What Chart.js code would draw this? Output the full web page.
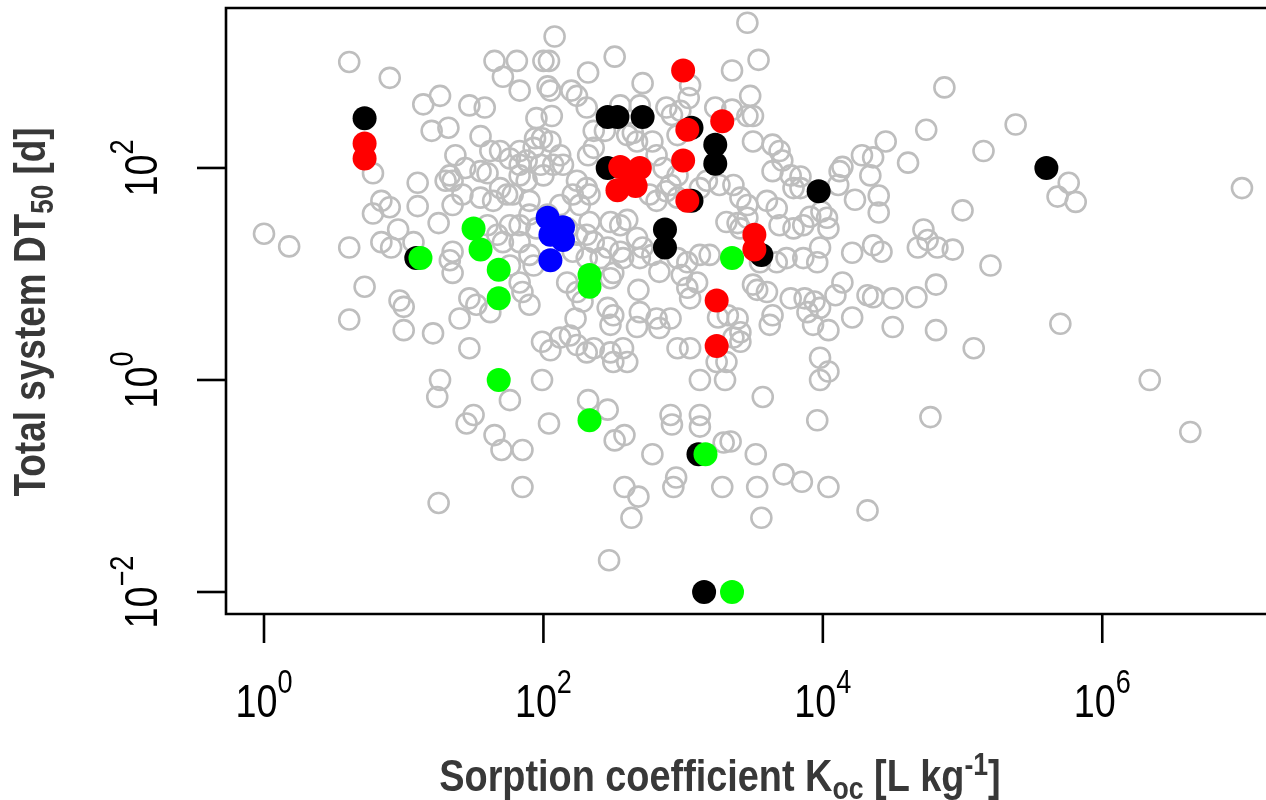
<!DOCTYPE html>
<html>
<head>
<meta charset="utf-8">
<script src="https://cdn.jsdelivr.net/npm/chart.js@4/dist/chart.umd.min.js"></script>
<style>
  html, body { margin: 0; padding: 0; background: #fff; overflow: hidden; }
  #wrap { width: 1266px; height: 800px; }
</style>
</head>
<body>
<div id="wrap"><canvas id="myChart" width="1266" height="800"></canvas></div>
<script>
// values are log10(Koc) and log10(DT50)

// grey open circles: all substances
const grayLogKoc = [
  0.61,0.90,1.14,0.78,0.78,0.84,0.90,1.10,
  2.08,1.65,1.81,2.00,2.04,1.71,1.83,2.32,2.05,2.03,2.20,2.24,2.31,1.26,1.47,1.58,1.95,2.06,1.20,1.32,1.55,1.37,
  2.36,1.94,1.99,2.05,1.83,1.62,1.69,1.55,1.60,1.33,1.30,1.35,1.44,1.76,1.83,1.88,1.93,2.12,2.14,2.07,1.98,2.00,
  1.83,1.88,1.69,1.74,1.78,1.42,1.35,1.55,1.64,2.24,2.31,2.33,2.21,2.26,1.90,2.12,2.32,2.36,
  3.46,2.51,3.54,3.35,2.71,3.05,3.04,3.48,2.55,2.69,2.88,2.92,2.98,3.23,3.35,3.46,3.50,2.60,2.64,2.78,2.96,3.50,
  3.64,3.69,3.71,3.64,3.77,3.79,2.88,2.96,3.12,3.36,3.41,3.46,2.76,2.81,3.60,3.67,2.44,2.67,2.81,2.86,2.96,2.91,
  3.17,3.26,
  4.87,4.74,5.38,5.15,4.61,4.45,4.28,4.36,4.14,4.12,4.34,4.11,4.23,4.40,4.40,5.00,3.84,3.84,3.99,5.76,5.68,5.81,7.00,
  0.00,0.18,0.61,0.72,0.61,0.97,1.00,1.00,0.84,0.91,0.96,1.07,
  1.25,1.35,1.33,1.35,1.60,1.67,1.71,1.76,1.83,1.90,1.93,1.76,1.83,1.85,1.90,1.47,1.52,1.40,1.62,1.21,1.47,1.99,
  2.05,2.12,2.19,2.24,2.31,2.36,2.23,2.17,2.24,2.28,2.21,2.31,2.31,2.33,1.26,1.24,1.76,1.99,2.32,1.50,2.03,1.90,
  1.83,1.95,2.17,2.24,2.36,2.41,
  2.48,2.55,2.60,2.67,2.71,2.46,2.55,2.57,2.69,2.78,2.83,2.48,2.50,2.96,3.03,2.99,3.12,3.19,3.10,3.03,3.05,2.68,
  2.46,2.48,2.50,2.69,2.67,2.81,2.83,2.91,3.25,3.32,3.39,3.41,3.36,3.41,3.50,3.53,3.60,3.64,3.62,3.55,3.67,3.74,
  3.79,3.69,3.77,2.96,3.05,3.31,3.39,3.46,3.41,2.48,2.50,2.60,2.57,3.24,3.31,3.12,3.30,3.57,2.46,2.91,3.12,
  3.91,4.03,4.04,3.86,3.98,3.96,3.86,4.21,4.36,4.42,4.72,4.75,4.68,4.82,4.93,5.20,4.14,4.09,4.32,4.36,4.50,4.67,
  4.81,3.94,3.98,3.87,3.89,4.21,3.93,4.04,4.50,4.81,5.08,5.70,3.98,4.04,3.98,6.34,3.96,4.77,
  1.45,2.04,1.65,1.70,1.85,1.85,1.25,
  2.92,3.12,6.63,2.51,2.58,2.78,3.29,3.34,3.52,2.58,2.68,2.63,2.95,2.93,3.28,3.53,3.72,3.85,4.04,4.32,3.56,2.47,
  1.10
];
const grayLogDT50 = [
  3.00,2.85,2.60,1.95,1.57,1.69,1.63,1.64,
  3.24,3.01,3.01,3.01,3.01,2.86,2.73,2.90,2.73,2.77,2.73,2.68,2.57,2.68,2.59,2.57,2.47,2.49,2.35,2.38,2.30,2.12,
  2.35,2.28,2.28,2.25,2.16,2.16,2.16,1.97,1.95,1.93,1.88,1.88,2.00,2.09,2.03,2.07,2.19,2.12,2.03,2.03,2.03,1.93,
  1.93,1.88,1.81,1.75,1.75,1.75,1.65,1.72,1.69,1.88,1.81,1.75,1.75,1.65,1.69,1.65,2.12,2.19,
  3.37,3.05,3.02,2.92,2.80,2.78,2.66,2.68,2.59,2.59,2.57,2.50,2.54,2.57,2.55,2.49,2.49,2.31,2.33,2.25,2.31,2.25,
  2.22,2.16,2.07,1.97,1.93,1.81,1.78,1.72,1.81,1.84,1.72,1.65,1.75,1.69,1.69,1.62,2.35,2.25,2.12,2.00,1.93,1.84,
  1.88,1.84,
  2.76,2.36,2.41,2.16,2.05,2.25,2.12,2.10,2.01,1.97,1.93,1.84,1.70,1.74,1.58,1.60,1.92,1.81,1.59,1.86,1.73,1.68,1.81,
  1.38,1.26,1.25,0.88,0.57,0.75,0.69,0.47,1.30,1.25,1.42,1.30,
  1.48,1.21,1.13,1.01,1.46,1.37,1.30,1.46,1.30,1.18,1.08,1.08,0.92,0.83,0.71,0.77,0.71,0.58,0.64,0.44,0.30,0.36,
  0.28,0.40,0.42,0.33,0.26,0.30,0.58,0.92,0.83,0.74,1.21,1.15,1.37,1.49,0.00,-0.16,-0.19,0.00,-0.19,-0.33,1.56,1.56,
  1.46,1.43,1.43,1.37,1.30,1.15,
  1.49,1.46,1.51,1.34,1.25,1.25,1.21,1.15,1.15,1.18,1.02,0.96,1.01,1.15,1.11,0.99,1.18,1.18,0.92,0.87,0.77,0.85,
  0.68,0.52,0.61,0.64,0.50,0.58,0.49,0.58,0.59,0.61,0.58,0.45,0.40,0.36,0.90,0.85,0.83,0.61,0.52,1.11,1.11,1.15,
  1.43,1.46,0.77,0.30,0.30,1.49,1.48,1.53,1.43,0.26,0.17,0.17,0.30,0.17,0.17,0.00,0.00,-0.16,-0.28,-0.33,-0.33,
  1.54,1.53,1.43,1.46,1.25,1.11,1.15,1.20,1.27,1.21,1.42,1.32,1.25,1.25,1.23,1.08,0.92,0.80,0.80,0.78,0.77,0.78,
  0.90,0.74,0.68,0.77,0.64,0.59,0.52,0.47,0.50,0.47,0.30,0.53,0.21,0.08,0.00,0.00,-0.38,-0.35,
  -0.41,-0.41,-0.52,-0.66,-0.66,-1.01,-1.16,
  -0.42,-0.44,-0.49,-0.57,-0.52,-0.70,-0.59,-0.58,-0.70,-1.01,-1.10,-1.30,-0.92,-1.01,-1.01,-1.01,-0.89,-0.96,
  -1.01,-1.23,-1.30,-1.70,
  1.86
];

// highlighted groups (filled)
const blackLogKoc  = [0.72, 2.46, 2.53, 2.71, 3.06, 3.23, 3.23, 2.46, 3.06, 3.97, 5.60, 2.87, 2.87, 3.56, 1.09, 3.11, 3.15];
const blackLogDT50 = [2.47, 2.48, 2.48, 2.48, 2.38, 2.22, 2.04, 2.00, 1.69, 1.78, 2.00, 1.42, 1.25, 1.18, 1.15, -0.70, -2.00];

const redLogKoc  = [0.72, 0.72, 3.00, 3.03, 3.28, 3.00, 2.55, 2.69, 2.62, 2.53, 2.66, 3.03, 3.51, 3.51, 3.24, 3.24];
const redLogDT50 = [2.23, 2.09, 2.92, 2.36, 2.44, 2.07, 2.01, 2.00, 1.87, 1.79, 1.83, 1.69, 1.37, 1.23, 0.75, 0.32];

const greenLogKoc  = [1.50, 1.55, 1.68, 1.68, 1.68, 1.12, 2.33, 2.33, 2.33, 3.35, 3.16, 3.35];
const greenLogDT50 = [1.43, 1.23, 1.04, 0.77, 0.00, 1.15, 0.99, 0.88, -0.38, 1.15, -0.70, -2.00];

const blueLogKoc  = [2.03, 2.14, 2.05, 2.14, 2.05];
const blueLogDT50 = [1.53, 1.44, 1.37, 1.32, 1.13];

// axis ticks (exponents of 10)
const xTickExp = [0, 2, 4, 6];
const yTickExp = [-2, 0, 2];

const FONT = '"Liberation Sans", Arial, sans-serif';

function pts(xs, ys) {
    return xs.map((v, i) => ({ x: v, y: ys[i] }));
}

// draw a run of text pieces centred on (0,0) baseline, squeezed horizontally by sx
function drawRich(ctx, parts, color, sx) {
    ctx.save();
    ctx.scale(sx, 1);
    ctx.fillStyle = color;
    ctx.textBaseline = 'alphabetic';
    ctx.textAlign = 'left';
    let total = 0;
    parts.forEach(p => {
        ctx.font = p.font;
        p.w = ctx.measureText(p.t).width;
        total += p.w;
    });
    let cx = -total / 2;
    parts.forEach(p => {
        ctx.font = p.font;
        ctx.fillText(p.t, cx, p.dy || 0);
        cx += p.w;
    });
    ctx.restore();
}

function powParts(e) {
    const s = e < 0 ? '\u2212' + Math.abs(e) : String(e);
    return [
        { t: '10', font: '46px ' + FONT },
        { t: s, font: '33px ' + FONT, dy: -24 }
    ];
}

const axisDecor = {
    id: 'axisDecor',
    afterDraw(chart) {
        const { ctx, chartArea: a, scales } = chart;
        const xs = scales.x, ys = scales.y;
        ctx.save();
        ctx.strokeStyle = '#000';
        ctx.lineWidth = 2.6;
        ctx.lineCap = 'butt';

        // box (right side lies beyond the picture)
        ctx.beginPath();
        ctx.moveTo(a.right + 20, a.top);
        ctx.lineTo(a.left, a.top);
        ctx.lineTo(a.left, a.bottom);
        ctx.lineTo(a.right + 20, a.bottom);
        ctx.stroke();

        // x ticks + labels
        xTickExp.forEach(e => {
            const px = xs.getPixelForValue(e);
            ctx.beginPath();
            ctx.moveTo(px, a.bottom);
            ctx.lineTo(px, a.bottom + 29);
            ctx.stroke();
            ctx.save();
            ctx.translate(px, 717);
            drawRich(ctx, powParts(e), '#000', 0.82);
            ctx.restore();
        });

        // y ticks + labels (rotated)
        yTickExp.forEach(e => {
            const py = ys.getPixelForValue(e);
            ctx.beginPath();
            ctx.moveTo(a.left - 29, py);
            ctx.lineTo(a.left, py);
            ctx.stroke();
            ctx.save();
            ctx.translate(157, py);
            ctx.rotate(-Math.PI / 2);
            drawRich(ctx, powParts(e), '#000', 0.82);
            ctx.restore();
        });

        // axis titles
        const big = 'bold 44px ' + FONT;
        const small = 'bold 31px ' + FONT;
        ctx.save();
        ctx.translate(720, 791);
        drawRich(ctx, [
            { t: 'Sorption coefficient K', font: big },
            { t: 'oc', font: small, dy: 8 },
            { t: ' [L kg', font: big },
            { t: '-1', font: small, dy: -16 },
            { t: ']', font: big }
        ], '#383838', 0.86);
        ctx.restore();

        ctx.save();
        ctx.translate(45, 312);
        ctx.rotate(-Math.PI / 2);
        drawRich(ctx, [
            { t: 'Total system DT', font: big },
            { t: '50', font: small, dy: 8 },
            { t: ' [d]', font: big }
        ], '#383838', 0.84);
        ctx.restore();

        ctx.restore();
    }
};

const openStyle = {
    pointRadius: 10,
    pointBorderWidth: 2.6,
    pointBorderColor: '#bebebe',
    pointBackgroundColor: 'rgba(0,0,0,0)'
};
function filled(color) {
    return {
        pointRadius: 12,
        pointBorderWidth: 0,
        pointBorderColor: color,
        pointBackgroundColor: color
    };
}

const ctx = document.getElementById('myChart').getContext('2d');
const myChart = new Chart(ctx, {
    type: 'scatter',
    data: {
        datasets: [
            { label: 'all', data: pts(grayLogKoc, grayLogDT50), order: 5, ...openStyle },
            { label: 'black', data: pts(blackLogKoc, blackLogDT50), order: 4, ...filled('#000000') },
            { label: 'red', data: pts(redLogKoc, redLogDT50), order: 3, ...filled('#ff0000') },
            { label: 'green', data: pts(greenLogKoc, greenLogDT50), order: 2, ...filled('#00ff00') },
            { label: 'blue', data: pts(blueLogKoc, blueLogDT50), order: 1, ...filled('#0000ff') }
        ]
    },
    options: {
        responsive: false,
        animation: false,
        devicePixelRatio: 1,
        events: [],
        layout: { autoPadding: false, padding: { left: 226, top: 8, right: 0, bottom: 186 } },
        scales: {
            x: { type: 'linear', display: false, min: -0.272, max: 7.172 },
            y: { type: 'linear', display: false, min: -2.2075, max: 3.509 }
        },
        plugins: {
            legend: { display: false },
            tooltip: { enabled: false }
        }
    },
    plugins: [axisDecor]
});
</script>
</body>
</html>
